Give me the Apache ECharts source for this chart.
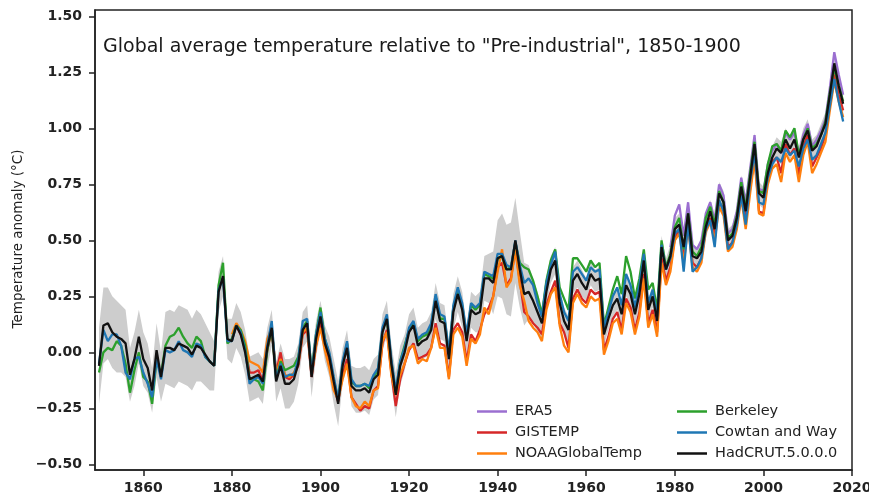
<!DOCTYPE html>
<html><head><meta charset="utf-8">
<script src="https://cdn.jsdelivr.net/npm/echarts@6/dist/echarts.min.js"></script>
<style>html,body{margin:0;padding:0;background:#fff}#c{width:869px;height:497px}</style>
</head><body><div id="c"></div>
<script>
// Annual global temperature anomalies relative to 1850-1900 (°C)
const hadcrutStart = 1850;
const hadcrut = [
 -0.06, 0.12, 0.13, 0.09, 0.07, 0.06, 0.04, -0.10, -0.03, 0.07,
 -0.03, -0.07, -0.17, 0.01, -0.11, 0.02, 0.02, 0.01, 0.04, 0.03,
 0.02, -0.01, 0.03, 0.02, -0.01, -0.04, -0.06, 0.27, 0.34, 0.06,
 0.05, 0.12, 0.08, 0.00, -0.12, -0.11, -0.10, -0.13, 0.02, 0.11,
 -0.13, -0.06, -0.14, -0.14, -0.12, -0.05, 0.10, 0.13, -0.11, 0.06,
 0.16, 0.04, -0.02, -0.13, -0.23, -0.06, 0.02, -0.15, -0.17, -0.17,
 -0.16, -0.18, -0.12, -0.10, 0.09, 0.15, -0.05, -0.19, -0.06, 0.00,
 0.09, 0.12, 0.03, 0.05, 0.06, 0.10, 0.23, 0.14, 0.13, -0.03,
 0.18, 0.26, 0.19, 0.05, 0.19, 0.17, 0.18, 0.33, 0.33, 0.31,
 0.42, 0.43, 0.37, 0.37, 0.50, 0.37, 0.26, 0.27, 0.23, 0.18,
 0.13, 0.27, 0.37, 0.41, 0.22, 0.14, 0.10, 0.32, 0.35, 0.31,
 0.28, 0.35, 0.32, 0.33, 0.08, 0.15, 0.21, 0.24, 0.17, 0.30,
 0.26, 0.17, 0.26, 0.41, 0.19, 0.25, 0.14, 0.47, 0.37, 0.43,
 0.55, 0.57, 0.47, 0.62, 0.43, 0.42, 0.45, 0.56, 0.63, 0.55,
 0.71, 0.67, 0.50, 0.52, 0.60, 0.74, 0.63, 0.78, 0.93, 0.71,
 0.69, 0.80, 0.87, 0.91, 0.89, 0.95, 0.91, 0.95, 0.87, 0.95,
 0.99, 0.90, 0.92, 0.97, 1.02, 1.15, 1.29, 1.19, 1.11
];
// HadCRUT uncertainty half-width (grey band)
const hadcrutUnc = [
 0.17, 0.17, 0.16, 0.16, 0.16, 0.15, 0.15, 0.12, 0.12, 0.12,
 0.12, 0.11, 0.10, 0.12, 0.11, 0.16, 0.17, 0.17, 0.17, 0.17,
 0.17, 0.16, 0.16, 0.15, 0.14, 0.13, 0.11, 0.09, 0.09, 0.09,
 0.10, 0.10, 0.10, 0.10, 0.10, 0.10, 0.10, 0.10, 0.09, 0.08,
 0.09, 0.10, 0.11, 0.11, 0.10, 0.09, 0.08, 0.08, 0.09, 0.08,
 0.07, 0.08, 0.09, 0.10, 0.10, 0.08, 0.08, 0.09, 0.10, 0.10,
 0.10, 0.10, 0.09, 0.09, 0.08, 0.08, 0.09, 0.10, 0.09, 0.08,
 0.08, 0.08, 0.08, 0.08, 0.08, 0.08, 0.08, 0.08, 0.08, 0.08,
 0.08, 0.08, 0.08, 0.07, 0.08, 0.08, 0.09, 0.10, 0.11, 0.14,
 0.17, 0.19, 0.20, 0.21, 0.19, 0.17, 0.14, 0.12, 0.10, 0.09,
 0.07, 0.07, 0.06, 0.06, 0.06, 0.06, 0.06, 0.06, 0.06, 0.06,
 0.05, 0.05, 0.05, 0.05, 0.05, 0.05, 0.05, 0.05, 0.05, 0.05,
 0.05, 0.05, 0.05, 0.05, 0.05, 0.05, 0.05, 0.05, 0.05, 0.05,
 0.05, 0.05, 0.05, 0.05, 0.05, 0.05, 0.05, 0.05, 0.05, 0.05,
 0.05, 0.05, 0.05, 0.05, 0.05, 0.05, 0.05, 0.05, 0.05, 0.05,
 0.05, 0.05, 0.05, 0.05, 0.05, 0.05, 0.05, 0.05, 0.05, 0.05,
 0.05, 0.05, 0.05, 0.05, 0.05, 0.05, 0.05, 0.05, 0.05
];
const cowtanStart = 1850;
const cowtan = [
 -0.05, 0.10, 0.05, 0.08, 0.08, 0.03, -0.09, -0.12, -0.03, -0.02,
 -0.09, -0.14, -0.20, -0.03, -0.12, 0.01, 0.00, 0.01, 0.05, 0.01,
 0.00, -0.02, 0.04, 0.03, -0.02, -0.04, -0.06, 0.28, 0.33, 0.05,
 0.05, 0.12, 0.09, 0.01, -0.14, -0.12, -0.11, -0.14, 0.03, 0.14,
 -0.12, -0.05, -0.11, -0.10, -0.10, -0.03, 0.14, 0.15, -0.10, 0.08,
 0.18, 0.06, 0.00, -0.11, -0.21, -0.04, 0.05, -0.12, -0.15, -0.15,
 -0.14, -0.15, -0.10, -0.07, 0.11, 0.17, -0.03, -0.17, -0.04, 0.02,
 0.11, 0.14, 0.06, 0.08, 0.09, 0.13, 0.26, 0.17, 0.16, 0.00,
 0.21, 0.29, 0.22, 0.08, 0.22, 0.20, 0.22, 0.36, 0.35, 0.34,
 0.44, 0.44, 0.39, 0.38, 0.50, 0.39, 0.31, 0.33, 0.30, 0.22,
 0.16, 0.31, 0.39, 0.45, 0.26, 0.18, 0.14, 0.36, 0.38, 0.35,
 0.32, 0.38, 0.36, 0.37, 0.11, 0.18, 0.25, 0.29, 0.21, 0.35,
 0.30, 0.20, 0.30, 0.44, 0.22, 0.28, 0.16, 0.48, 0.37, 0.42,
 0.53, 0.55, 0.36, 0.58, 0.36, 0.38, 0.42, 0.55, 0.59, 0.47,
 0.68, 0.63, 0.46, 0.49, 0.57, 0.70, 0.57, 0.76, 0.89, 0.67,
 0.66, 0.78, 0.84, 0.87, 0.85, 0.91, 0.88, 0.90, 0.83, 0.91,
 0.95, 0.86, 0.88, 0.93, 0.98, 1.10, 1.22, 1.12, 1.03
];
const berkeleyStart = 1850;
const berkeley = [
 -0.09, 0.00, 0.02, 0.01, 0.05, 0.03, -0.05, -0.18, -0.08, 0.00,
 -0.11, -0.13, -0.23, -0.03, -0.10, 0.03, 0.07, 0.08, 0.11, 0.07,
 0.04, 0.02, 0.07, 0.05, -0.02, -0.04, -0.06, 0.30, 0.40, 0.04,
 0.06, 0.12, 0.10, 0.03, -0.12, -0.12, -0.13, -0.17, 0.01, 0.11,
 -0.12, -0.04, -0.08, -0.07, -0.06, -0.02, 0.11, 0.14, -0.09, 0.08,
 0.20, 0.06, -0.01, -0.12, -0.21, -0.05, 0.04, -0.13, -0.15, -0.15,
 -0.14, -0.16, -0.11, -0.08, 0.10, 0.15, -0.04, -0.18, -0.04, 0.03,
 0.10, 0.13, 0.05, 0.07, 0.08, 0.12, 0.25, 0.15, 0.15, -0.01,
 0.20, 0.27, 0.21, 0.07, 0.21, 0.19, 0.21, 0.35, 0.34, 0.33,
 0.42, 0.43, 0.37, 0.38, 0.49, 0.40, 0.38, 0.37, 0.32, 0.25,
 0.17, 0.32, 0.41, 0.46, 0.29, 0.24, 0.19, 0.42, 0.42, 0.39,
 0.36, 0.41, 0.38, 0.40, 0.12, 0.20, 0.28, 0.34, 0.26, 0.43,
 0.36, 0.24, 0.33, 0.46, 0.28, 0.31, 0.19, 0.50, 0.38, 0.44,
 0.56, 0.60, 0.46, 0.62, 0.45, 0.43, 0.47, 0.60, 0.65, 0.57,
 0.72, 0.67, 0.51, 0.53, 0.61, 0.76, 0.64, 0.80, 0.94, 0.72,
 0.71, 0.84, 0.92, 0.93, 0.90, 0.99, 0.96, 1.00, 0.88, 0.95,
 1.00, 0.91, 0.93, 0.97, 1.03, 1.16, 1.27, 1.19, 1.12
];
const gistempStart = 1880;
const gistemp = [
 0.06, 0.12, 0.08, 0.02, -0.09, -0.09, -0.08, -0.13, 0.01, 0.10,
 -0.09, 0.00, -0.11, -0.12, -0.10, -0.06, 0.08, 0.10, -0.11, 0.03,
 0.13, 0.03, -0.05, -0.15, -0.22, -0.10, -0.03, -0.20, -0.23, -0.26,
 -0.24, -0.25, -0.17, -0.15, 0.04, 0.10, -0.09, -0.24, -0.12, -0.05,
 0.01, 0.04, -0.03, -0.02, -0.01, 0.02, 0.13, 0.04, 0.03, -0.11,
 0.10, 0.13, 0.09, -0.04, 0.08, 0.05, 0.10, 0.17, 0.20, 0.25,
 0.38, 0.40, 0.30, 0.33, 0.46, 0.32, 0.18, 0.16, 0.13, 0.11,
 0.08, 0.21, 0.27, 0.32, 0.13, 0.09, 0.02, 0.24, 0.28, 0.24,
 0.22, 0.28, 0.26, 0.27, 0.01, 0.07, 0.15, 0.18, 0.10, 0.24,
 0.20, 0.10, 0.18, 0.35, 0.13, 0.19, 0.09, 0.42, 0.32, 0.38,
 0.51, 0.55, 0.42, 0.58, 0.40, 0.38, 0.42, 0.56, 0.60, 0.52,
 0.67, 0.64, 0.47, 0.49, 0.57, 0.71, 0.61, 0.73, 0.88, 0.63,
 0.62, 0.78, 0.85, 0.87, 0.80, 0.93, 0.88, 0.91, 0.79, 0.92,
 0.97, 0.83, 0.87, 0.91, 0.97, 1.10, 1.24, 1.15, 1.08
];
const noaaStart = 1880;
const noaa = [
 0.08, 0.13, 0.10, 0.05, -0.04, -0.05, -0.06, -0.09, 0.06, 0.11,
 -0.10, -0.03, -0.10, -0.11, -0.09, -0.05, 0.09, 0.11, -0.10, 0.03,
 0.11, 0.01, -0.07, -0.17, -0.21, -0.12, -0.05, -0.20, -0.24, -0.25,
 -0.22, -0.24, -0.17, -0.16, 0.05, 0.09, -0.10, -0.19, -0.10, -0.05,
 0.02, 0.03, -0.05, -0.03, -0.04, 0.02, 0.11, 0.02, 0.02, -0.12,
 0.08, 0.11, 0.07, -0.06, 0.06, 0.04, 0.08, 0.20, 0.17, 0.25,
 0.36, 0.46, 0.29, 0.32, 0.46, 0.30, 0.23, 0.14, 0.11, 0.09,
 0.05, 0.19, 0.26, 0.29, 0.12, 0.03, 0.00, 0.22, 0.26, 0.22,
 0.20, 0.25, 0.23, 0.24, -0.01, 0.05, 0.13, 0.15, 0.08, 0.22,
 0.18, 0.08, 0.16, 0.33, 0.11, 0.17, 0.07, 0.40, 0.30, 0.36,
 0.50, 0.53, 0.40, 0.56, 0.38, 0.36, 0.40, 0.54, 0.58, 0.50,
 0.65, 0.61, 0.45, 0.47, 0.55, 0.69, 0.55, 0.71, 0.86, 0.62,
 0.61, 0.75, 0.82, 0.84, 0.76, 0.89, 0.85, 0.88, 0.76, 0.88,
 0.94, 0.80, 0.84, 0.89, 0.94, 1.08, 1.21, 1.12, 1.05
];
const era5Start = 1979;
const era5 = [
 0.47,
 0.61, 0.66, 0.52, 0.67, 0.48, 0.46, 0.50, 0.62, 0.67, 0.59,
 0.75, 0.70, 0.53, 0.55, 0.63, 0.78, 0.67, 0.82, 0.97, 0.73,
 0.72, 0.84, 0.90, 0.93, 0.89, 0.98, 0.95, 0.98, 0.88, 0.97,
 1.02, 0.92, 0.95, 0.99, 1.04, 1.18, 1.34, 1.24, 1.15
];
const xTicks = [1860, 1880, 1900, 1920, 1940, 1960, 1980, 2000, 2020];
const yTicks = [-0.5, -0.25, 0, 0.25, 0.5, 0.75, 1.0, 1.25, 1.5];

const pairs = (arr, start) => arr.map((v, i) => [start + i, v]);

const FONT = 'DejaVu Sans';
const chart = echarts.init(document.getElementById('c'), null, {renderer: 'canvas'});
const lineSeries = (name, data, color, z) => ({
  name, type: 'line', data, symbol: 'none', showSymbol: false, z,
  color, lineStyle: {color, width: 2.3}, itemStyle: {color}, emphasis: {disabled: true}
});
const legendCommon = {
  orient: 'vertical', icon: 'rect', itemWidth: 30, itemHeight: 2.5, itemGap: 6,
  selectedMode: false,
  textStyle: {fontFamily: FONT, fontSize: 14.5, color: '#222', lineHeight: 14, padding: [0, 0, 0, 3]}
};
chart.setOption({
  animation: false,
  backgroundColor: '#fff',
  title: {
    text: 'Global average temperature relative to "Pre-industrial", 1850-1900',
    left: 98, top: 33,
    textStyle: {fontFamily: FONT, fontSize: 19, fontWeight: 'normal', color: '#1a1a1a'}
  },
  graphic: [{
    type: 'text', x: 18, y: 239, rotation: Math.PI / 2,
    style: {text: 'Temperature anomaly (°C)', font: '13.5px "DejaVu Sans"', fill: '#222',
      align: 'center', verticalAlign: 'middle'}
  }],
  legend: [
    Object.assign({}, legendCommon, {data: ['ERA5', 'GISTEMP', 'NOAAGlobalTemp'], left: 472, top: 399}),
    Object.assign({}, legendCommon, {data: ['Berkeley', 'Cowtan and Way', 'HadCRUT.5.0.0.0'], left: 672, top: 399})
  ],
  grid: {left: 95, right: 17, top: 10, bottom: 27, show: true, borderColor: '#222', borderWidth: 1.5,
    outerBoundsMode: 'none', containLabel: false},
  xAxis: {
    type: 'value', min: 1849.1, max: 2020,
    axisLine: {show: true, onZero: false, lineStyle: {color: '#222', width: 1.5}},
    axisTick: {show: true, length: 6, lineStyle: {color: '#222', width: 1.5}, customValues: xTicks},
    axisLabel: {customValues: xTicks, margin: 11, fontFamily: FONT, fontSize: 14, fontWeight: 'bold', color: '#222',
      formatter: v => String(v)},
    splitLine: {show: false}
  },
  yAxis: {
    type: 'value', min: -0.525, max: 1.528,
    axisLine: {show: true, onZero: false, lineStyle: {color: '#222', width: 1.5}},
    axisTick: {show: true, length: 6, lineStyle: {color: '#222', width: 1.5}, customValues: yTicks},
    axisLabel: {customValues: yTicks, margin: 13, fontFamily: FONT, fontSize: 14, fontWeight: 'bold', color: '#222',
      formatter: v => v.toFixed(2).replace('-', '\u2212')},
    splitLine: {show: false}
  },
  series: [
    {
      name: 'band', type: 'custom', z: 1, silent: true, clip: true,
      data: [[1900, 0]],
      renderItem: (params, api) => {
        const up = hadcrut.map((v, i) => api.coord([hadcrutStart + i, v + hadcrutUnc[i]]));
        const lo = hadcrut.map((v, i) => api.coord([hadcrutStart + i, v - hadcrutUnc[i]])).reverse();
        return {type: 'polygon', shape: {points: up.concat(lo)}, style: {fill: '#cdcdcd'}};
      }
    },
    lineSeries('ERA5', pairs(era5, era5Start), '#9b6fd0', 2),
    lineSeries('GISTEMP', pairs(gistemp, gistempStart), '#d62728', 3),
    lineSeries('NOAAGlobalTemp', pairs(noaa, noaaStart), '#ff7f0e', 4),
    lineSeries('Berkeley', pairs(berkeley, berkeleyStart), '#2ca02c', 5),
    lineSeries('Cowtan and Way', pairs(cowtan, cowtanStart), '#1f77b4', 6),
    lineSeries('HadCRUT.5.0.0.0', pairs(hadcrut, hadcrutStart), '#111111', 7)
  ]
});
</script>
</body></html>
